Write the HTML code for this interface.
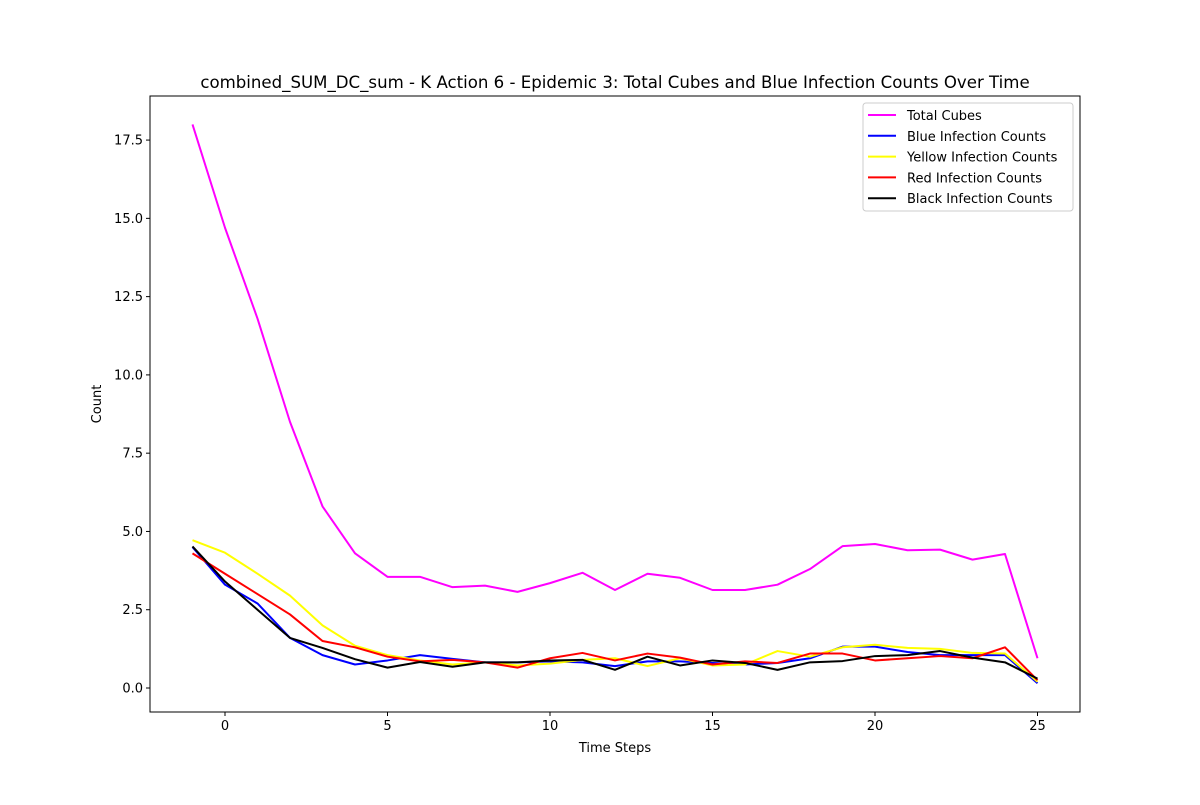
<!DOCTYPE html>
<html><head><meta charset="utf-8"><style>
body{margin:0;background:#fff;font-family:"Liberation Sans","DejaVu Sans",sans-serif;}
svg text{font-family:"DejaVu Sans","Liberation Sans",sans-serif;}
</style></head><body>
<svg id="chart" width="1200" height="800" xmlns="http://www.w3.org/2000/svg"></svg>
<script>
const steps=[-1,0,1,2,3,4,5,6,7,8,9,10,11,12,13,14,15,16,17,18,19,20,21,22,23,24,25];
const totalCubes=[18.0,14.7,11.8,8.5,5.8,4.3,3.55,3.55,3.22,3.27,3.07,3.35,3.68,3.13,3.65,3.52,3.13,3.13,3.3,3.8,4.53,4.6,4.4,4.42,4.1,4.28,0.95];
const blueCounts=[4.5,3.3,2.7,1.6,1.05,0.75,0.88,1.05,0.93,0.82,0.82,0.85,0.82,0.7,0.85,0.85,0.8,0.75,0.8,0.95,1.32,1.32,1.15,1.05,1.05,1.05,0.15];
const yellowCounts=[4.72,4.32,3.65,2.95,2.0,1.35,1.05,0.88,0.75,0.82,0.72,0.78,0.9,0.95,0.7,0.95,0.72,0.75,1.18,1.0,1.3,1.38,1.28,1.25,1.12,1.1,0.2];
const redCounts=[4.3,3.65,3.0,2.35,1.5,1.3,1.0,0.85,0.9,0.82,0.65,0.95,1.12,0.88,1.1,0.97,0.75,0.85,0.8,1.1,1.1,0.88,0.95,1.02,0.95,1.3,0.25];
const blackCounts=[4.52,3.4,2.5,1.6,1.28,0.92,0.65,0.83,0.68,0.82,0.82,0.88,0.9,0.58,1.0,0.72,0.88,0.8,0.58,0.82,0.86,1.02,1.05,1.18,0.97,0.82,0.3];
const xTicks=[0,5,10,15,20,25];
const yTicks=[0,2.5,5,7.5,10,12.5,15,17.5];
const yTickLabels=["0.0","2.5","5.0","7.5","10.0","12.5","15.0","17.5"];

const NS="http://www.w3.org/2000/svg";
const svg=document.getElementById('chart');
const L=150,R=1080,T=96,B=712;
const xs=v=>225+(v-0)*32.5;
const ys=v=>688-v*31.31;
function mk(tag,attrs,parent){const e=document.createElementNS(NS,tag);for(const k in attrs)e.setAttribute(k,attrs[k]);(parent||svg).appendChild(e);return e;}

const frame=mk('rect',{x:L,y:T,width:R-L,height:B-T,fill:'none',stroke:'#000','stroke-width':1});



xTicks.forEach(t=>{
  const l=mk('line',{x1:xs(t),x2:xs(t),y1:B,y2:B+4,stroke:'#000'});
  
  
  const tx=mk('text',{x:xs(t),y:B+18,'font-size':13,'text-anchor':'middle'});tx.textContent=t;
  
  
});
yTicks.forEach((t,i)=>{
  const l=mk('line',{x1:L-4,x2:L,y1:ys(t),y2:ys(t),stroke:'#000'});
  
  
  const tx=mk('text',{x:L-7,y:ys(t)+4.5,'font-size':13,'text-anchor':'end'});tx.textContent=yTickLabels[i];
  
  
});

const series=[["Total Cubes",totalCubes,"#ff00ff"],["Blue Infection Counts",blueCounts,"#0000ff"],["Yellow Infection Counts",yellowCounts,"#ffff00"],["Red Infection Counts",redCounts,"#ff0000"],["Black Infection Counts",blackCounts,"#000000"]];
series.forEach(s=>{
  const p=mk('polyline',{points:steps.map((x,i)=>xs(x)+','+ys(s[1][i])).join(' '),fill:'none',stroke:s[2],'stroke-width':2,'stroke-linejoin':'round'});
  
  
});

const title=mk('text',{x:615,y:88,'font-size':16.6,'text-anchor':'middle'});
title.textContent="combined_SUM_DC_sum - K Action 6 - Epidemic 3: Total Cubes and Blue Infection Counts Over Time";


const xt=mk('text',{x:615,y:752,'font-size':13,'text-anchor':'middle'});xt.textContent="Time Steps";


const yt=mk('text',{x:101,y:404,'font-size':13,'text-anchor':'middle',transform:'rotate(-90 101 404)'});yt.textContent="Count";



const lg=mk('g',{});


mk('rect',{x:863,y:103,width:210,height:108,rx:3,fill:'#fff',stroke:'#ccc'},lg);
series.forEach((s,i)=>{
  const y=115+i*20.8;
  const ln=mk('line',{x1:868,x2:896,y1:y,y2:y,stroke:s[2],'stroke-width':2},lg);
  
  
  const tx=mk('text',{x:907,y:y+5,'font-size':13},lg);tx.textContent=s[0];
  
  
});
</script>
</body></html>
